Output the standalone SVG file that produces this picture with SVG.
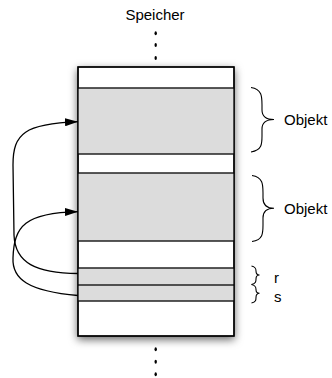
<svg xmlns="http://www.w3.org/2000/svg" width="332" height="378" viewBox="0 0 332 378">
<style>
text{font-family:"Liberation Sans",Arial,Helvetica,sans-serif;font-size:15px;fill:#000}
.sep{stroke:#222;stroke-width:1.3}
.gray{fill:#dcdcdc}
.brace{fill:none;stroke:#000;stroke-width:1.1}
.conn{fill:none;stroke:#000;stroke-width:1.3}
.dot{fill:#000}
</style>
<defs>
<filter id="sh" x="-20%" y="-20%" width="140%" height="140%">
<feDropShadow dx="0" dy="3" stdDeviation="4" flood-color="#000" flood-opacity="0.6"/>
</filter>
<marker id="ah" viewBox="0 0 13 8" refX="13" refY="4" markerWidth="13" markerHeight="8" markerUnits="userSpaceOnUse" orient="auto">
<path d="M0,0 L13,4 L0,8 z" fill="#000"/>
</marker>
</defs>
<g id="speicher-label"><text x="155" y="20" text-anchor="middle">Speicher</text></g>
<g id="dots-top">
<ellipse class="dot" cx="155.7" cy="33.3" rx="1.2" ry="2"/>
<ellipse class="dot" cx="155.7" cy="45" rx="1.2" ry="2"/>
<ellipse class="dot" cx="155.7" cy="58" rx="1.2" ry="2"/>
</g>
<g id="memory">
<rect x="78" y="67" width="156" height="269" fill="#fff" stroke="#000" stroke-width="1.3" filter="url(#sh)"/>
<rect class="gray" x="78" y="88" width="156" height="66"/>
<rect class="gray" x="78" y="173" width="156" height="68"/>
<rect class="gray" x="78" y="268" width="156" height="33"/>
<line class="sep" x1="78" y1="88" x2="234" y2="88"/>
<line class="sep" x1="78" y1="154" x2="234" y2="154"/>
<line class="sep" x1="78" y1="173" x2="234" y2="173"/>
<line class="sep" x1="78" y1="241" x2="234" y2="241"/>
<line class="sep" x1="78" y1="268" x2="234" y2="268"/>
<line class="sep" x1="78" y1="285" x2="234" y2="285"/>
<line class="sep" x1="78" y1="301" x2="234" y2="301"/>
<rect x="78" y="67" width="156" height="269" fill="none" stroke="#000" stroke-width="1.3"/>
</g>
<g id="dots-bottom">
<ellipse class="dot" cx="155.7" cy="349.3" rx="1.2" ry="2"/>
<ellipse class="dot" cx="155.7" cy="361.7" rx="1.2" ry="2"/>
<ellipse class="dot" cx="155.7" cy="374.3" rx="1.2" ry="2"/>
</g>
<g id="objekt1">
<path class="brace" d="M251,87.5 C262,89 262,97 262,105 L262,110 C262,116 265,119.5 274,119.5 C265,119.5 262,123 262,129 L262,136 C262,144 262,150 251,152"/>
<text x="284" y="125">Objekt</text>
</g>
<g id="objekt2">
<path class="brace" d="M252,175.5 C263,177 263,185 263,193 L263,198 C263,204 266,208.3 274,208.3 C266,208.3 263,212 263,218 L263,225 C263,233 263,240 252,241.5"/>
<text x="284" y="214">Objekt</text>
</g>
<g id="r">
<path class="brace" d="M251.5,266 C256,267 256,269 256,271 C256,273.5 257,275 259.5,275 C257,275 256,276.5 256,279 C256,281.5 256,283.5 251.5,284.5"/>
<text x="274" y="283">r</text>
</g>
<g id="s">
<path class="brace" d="M251.5,284.5 C256,285.5 256,287.5 256,289.5 C256,292 257,293.3 259.5,293.3 C257,293.3 256,295 256,297.5 C256,300 256,302 251.5,303"/>
<text x="274" y="302">s</text>
</g>
<g id="connectors">
<path class="conn" marker-end="url(#ah)" d="M78,273.5 C36,273 15,263 14,235 L13,165 C13,133 25,124 78,121.7"/>
<path class="conn" marker-end="url(#ah)" d="M78,295.5 C28,291 12,279 13,258 C14,226 25,213 78,211.7"/>
</g>
</svg>
